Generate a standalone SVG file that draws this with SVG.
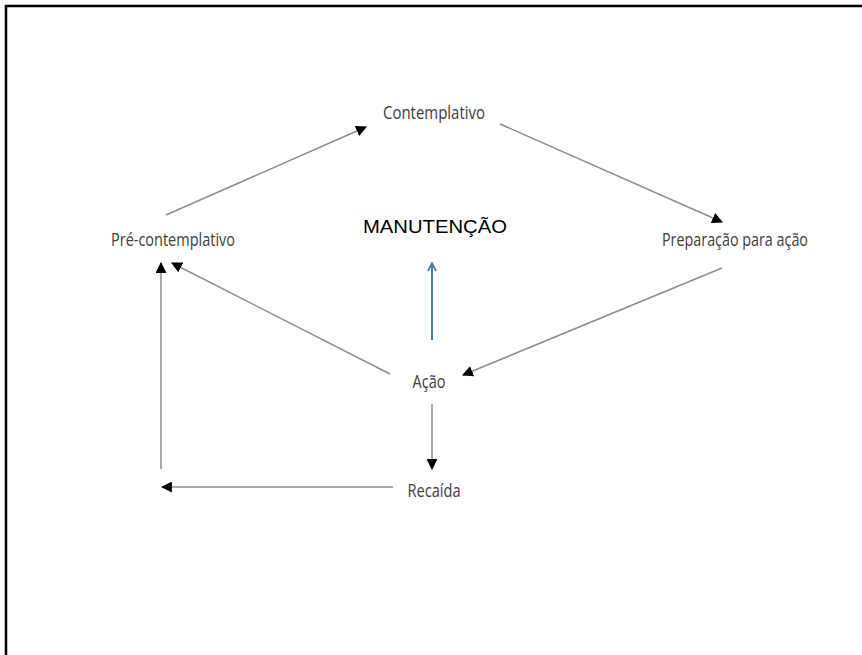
<svg xmlns="http://www.w3.org/2000/svg" width="862" height="655" viewBox="0 0 862 655">
<style>
.lbl{font-family:"Open Sans","Noto Sans","Liberation Sans",sans-serif;font-size:17.5px;fill:#404040}
.man{font-family:"Liberation Sans",Arial,sans-serif;font-size:17.5px;fill:#000}
.con{stroke:#8c8c8c;stroke-width:1.5;fill:none;marker-end:url(#ah)}
</style>
<defs>
<marker id="ah" viewBox="0 0 10 10" refX="9" refY="5" markerWidth="11" markerHeight="11" markerUnits="userSpaceOnUse" orient="auto">
<path d="M0,0 L10,5 L0,10 Z" fill="#000"/>
</marker>
<marker id="ab" viewBox="0 0 10 10" refX="9" refY="5" markerWidth="10" markerHeight="10" markerUnits="userSpaceOnUse" orient="auto">
<path d="M1,1 L9,5 L1,9" fill="none" stroke="#4a7ebb" stroke-width="1.8"/>
</marker>
</defs>
<rect width="862" height="655" fill="#fff"/>
<rect x="6" y="6" width="900" height="700" fill="none" stroke="#000" stroke-width="2.5"/>
<g id="connectors">
<line class="con" x1="166" y1="215" x2="366" y2="127"/>
<line class="con" x1="500" y1="124" x2="722" y2="222"/>
<line class="con" x1="722" y1="268" x2="463" y2="375"/>
<line class="con" x1="390" y1="374" x2="172" y2="263"/>
<line class="con" x1="432" y1="404" x2="432" y2="469"/>
<line class="con" x1="393" y1="487" x2="162" y2="487"/>
<line class="con" x1="161" y1="469" x2="161" y2="263"/>
<line x1="432" y1="340" x2="432" y2="263" stroke="#4a7ebb" stroke-width="2" marker-end="url(#ab)"/>
</g>
<g id="contemplativo"><text class="lbl" x="434" y="119" text-anchor="middle" textLength="102" lengthAdjust="spacingAndGlyphs">Contemplativo</text></g>
<g id="pre-contemplativo"><text class="lbl" x="173" y="246" text-anchor="middle" textLength="124" lengthAdjust="spacingAndGlyphs">Pré-contemplativo</text></g>
<g id="preparacao"><text class="lbl" x="735" y="246" text-anchor="middle" textLength="146" lengthAdjust="spacingAndGlyphs">Preparação para ação</text></g>
<g id="manutencao"><text class="man" x="435" y="233" text-anchor="middle" textLength="144" lengthAdjust="spacingAndGlyphs">MANUTENÇÃO</text></g>
<g id="acao"><text class="lbl" x="429" y="388" text-anchor="middle" textLength="33" lengthAdjust="spacingAndGlyphs">Ação</text></g>
<g id="recaida"><text class="lbl" x="434" y="497" text-anchor="middle" textLength="53" lengthAdjust="spacingAndGlyphs">Recaída</text></g>
</svg>
